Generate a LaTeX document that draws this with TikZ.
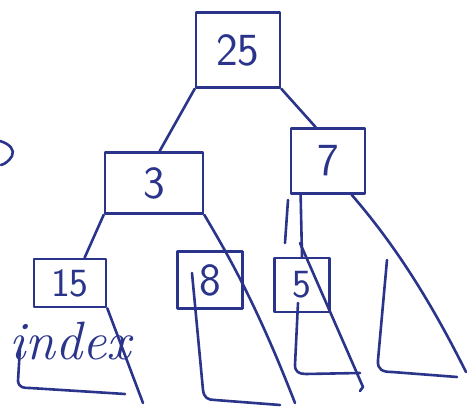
\documentclass[tikz,border=0pt]{standalone}
\usepackage{tikz}
\definecolor{ink}{RGB}{42,52,138}

\begin{document}
\begin{tikzpicture}[x=1pt,y=-1pt,color=ink,line width=2.6pt,line cap=round,line join=round,
        keybox/.style={draw,rectangle,inner sep=0pt,font=\fontsize{46}{46}\selectfont\sffamily},
        scribble/.style={font=\fontsize{54}{54}\selectfont\itshape}]
        \useasboundingbox (0,0) rectangle (467,411);

{\node[keybox,minimum width=84pt,minimum height=75pt] (root) at (238,50) {25};}
{\node[keybox,minimum width=98pt,minimum height=61pt] (n3) at (154,183) {3};}
{\node[keybox,minimum width=74pt,minimum height=65pt] (n7) at (328,161) {7};}
{\node[keybox,minimum width=72pt,minimum height=48pt,font=\fontsize{40}{40}\selectfont\sffamily] (n15) at (70,283) {15};}
{\node[keybox,minimum width=65pt,minimum height=57pt] (n8) at (210,280) {8};}
{\node[keybox,minimum width=55pt,minimum height=54pt,font=\fontsize{40}{40}\selectfont\sffamily] (n5) at (302,285) {5};}
{\node[scribble] (idx) at (70,341) {index};}

        \coordinate (t15r) at (143,403);
        \coordinate (t8r) at (295,403);
        \coordinate (t7r) at (466,372);

        \foreach \a/\b in {root.south west/n3.80, root.south east/n7.110, n3.south west/n15.60, n7.231/n5.north}
                {\draw (\a) -- (\b);}

        % subtrees
        \draw (20,347) -- (18,381) .. controls (19,388) and (24,388) .. (30,388) -- (125,394);
        \draw (n15.south east) -- (t15r);
        \draw (192,273) -- (203,390) .. controls (204,398) and (208,400) .. (215,400) -- (280,405);
        \draw (n3.south east) .. controls (225,250) and (255,300) .. (t8r);
        \draw (300,243) -- (363,387) -- (360,391);
        \draw (298,303) -- (295,365) .. controls (295,372) and (299,374) .. (306,374) -- (360,373);
        \draw (288,200) -- (285,243);
        \draw (n7.-55) .. controls (395,245) and (430,300) .. (t7r);
        \draw (387,260) -- (378,360) .. controls (377,370) and (383,372) .. (392,372) -- (457,377);

        \draw (0,141) .. controls (10,144) and (15,150) .. (12,156) .. controls (9,161) and (5,164) .. (1,165);
\end{tikzpicture}
\end{document}
